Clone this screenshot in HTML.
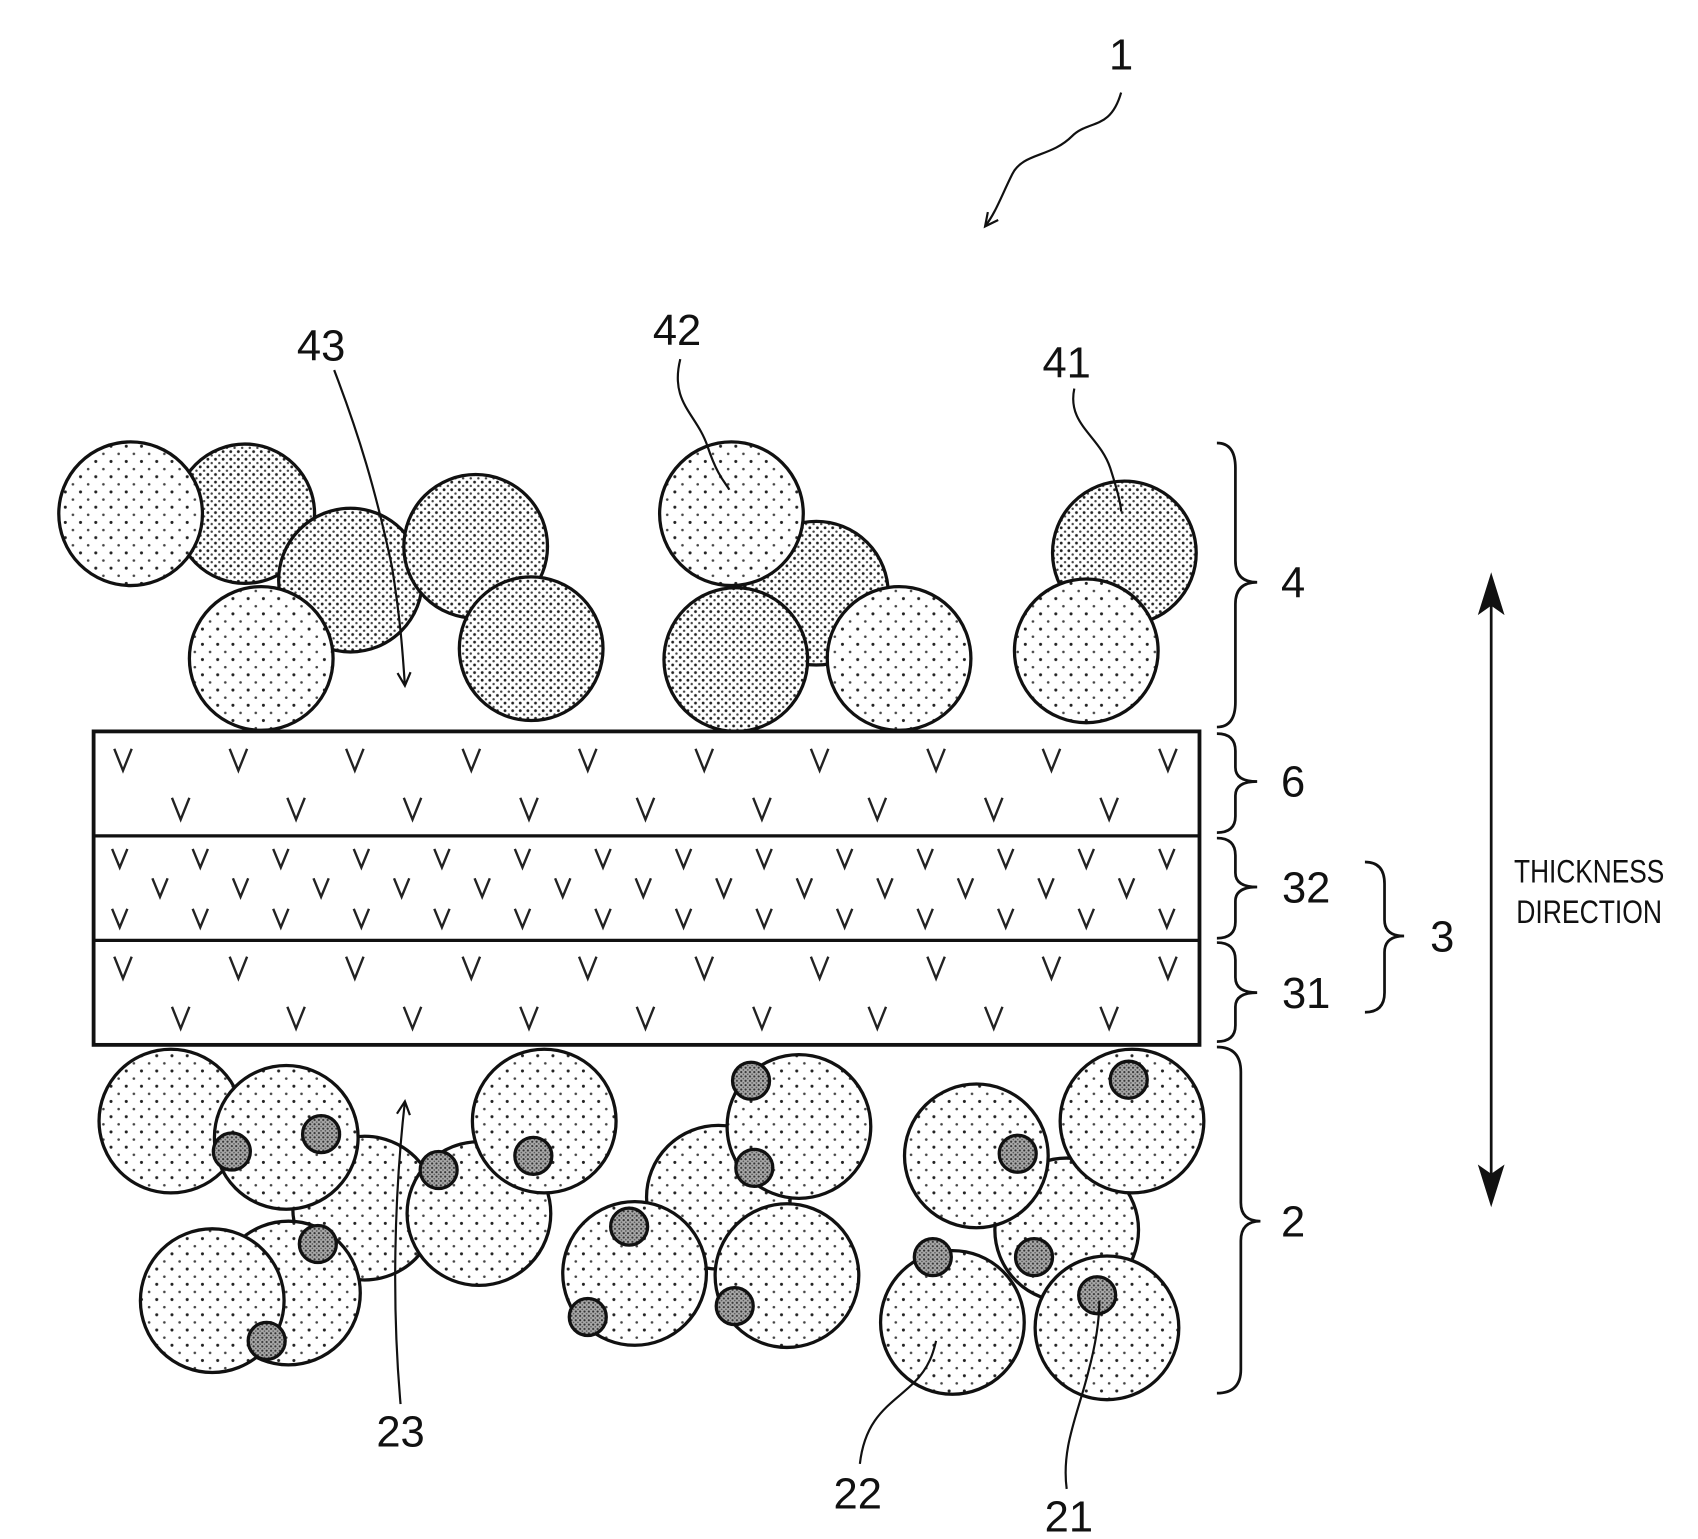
<!DOCTYPE html>
<html><head><meta charset="utf-8"><style>
html,body{margin:0;padding:0;background:#fff;}
svg{display:block;}
text{font-family:"Liberation Sans",sans-serif;fill:#111;}
</style></head><body>
<svg width="1698" height="1539" viewBox="0 0 1560 1414" preserveAspectRatio="none" xmlns="http://www.w3.org/2000/svg">
<defs>
<pattern id="sp" width="14" height="14" patternUnits="userSpaceOnUse"><rect width="14" height="14" fill="#fff"/><circle cx="4" cy="4" r="1.4" fill="#222"/><circle cx="11" cy="11" r="1.2" fill="#444"/></pattern>
<pattern id="dn" width="7" height="7" patternUnits="userSpaceOnUse"><rect width="7" height="7" fill="#fff"/><circle cx="2" cy="2" r="1.3" fill="#222"/><circle cx="5.5" cy="5.5" r="1.1" fill="#444"/></pattern>
<pattern id="gr" width="4" height="4" patternUnits="userSpaceOnUse"><rect width="4" height="4" fill="#aaa"/><circle cx="1" cy="1" r="1" fill="#333"/><circle cx="3" cy="3" r="0.8" fill="#555"/></pattern>
<marker id="ah" markerWidth="16" markerHeight="16" refX="13" refY="7" orient="auto" markerUnits="userSpaceOnUse"><path d="M1 1 L13 7 L1 13" fill="none" stroke="#111" stroke-width="2"/></marker>
</defs>
<g stroke="#111" stroke-width="3">
<circle cx="225" cy="472" r="64" fill="url(#dn)"/>
<circle cx="120" cy="472" r="66" fill="url(#sp)"/>
<circle cx="322" cy="533" r="66" fill="url(#dn)"/>
<circle cx="437" cy="502" r="66" fill="url(#dn)"/>
<circle cx="240" cy="605" r="66" fill="url(#sp)"/>
<circle cx="488" cy="596" r="66" fill="url(#dn)"/>
<circle cx="750" cy="545" r="66" fill="url(#dn)"/>
<circle cx="672" cy="472" r="66" fill="url(#sp)"/>
<circle cx="676" cy="606" r="66" fill="url(#dn)"/>
<circle cx="826" cy="605" r="66" fill="url(#sp)"/>
<circle cx="1033" cy="508" r="66" fill="url(#dn)"/>
<circle cx="998" cy="598" r="66" fill="url(#sp)"/>
<circle cx="335" cy="1110" r="66" fill="url(#sp)"/>
<circle cx="265" cy="1188" r="66" fill="url(#sp)"/>
<circle cx="157" cy="1030" r="66" fill="url(#sp)"/>
<circle cx="263" cy="1045" r="66" fill="url(#sp)"/>
<circle cx="440" cy="1115" r="66" fill="url(#sp)"/>
<circle cx="500" cy="1030" r="66" fill="url(#sp)"/>
<circle cx="195" cy="1195" r="66" fill="url(#sp)"/>
<circle cx="660" cy="1100" r="66" fill="url(#sp)"/>
<circle cx="734" cy="1035" r="66" fill="url(#sp)"/>
<circle cx="583" cy="1170" r="66" fill="url(#sp)"/>
<circle cx="723" cy="1172" r="66" fill="url(#sp)"/>
<circle cx="980" cy="1130" r="66" fill="url(#sp)"/>
<circle cx="897" cy="1062" r="66" fill="url(#sp)"/>
<circle cx="1040" cy="1030" r="66" fill="url(#sp)"/>
<circle cx="875" cy="1215" r="66" fill="url(#sp)"/>
<circle cx="1017" cy="1220" r="66" fill="url(#sp)"/>
<g fill="url(#gr)">
<circle cx="213" cy="1058" r="17"/><circle cx="295" cy="1042" r="17"/><circle cx="403" cy="1075" r="17"/>
<circle cx="490" cy="1062" r="17"/><circle cx="292" cy="1143" r="17"/><circle cx="245" cy="1232" r="17"/>
<circle cx="690" cy="993" r="17"/><circle cx="693" cy="1073" r="17"/><circle cx="578" cy="1127" r="17"/>
<circle cx="540" cy="1210" r="17"/><circle cx="675" cy="1200" r="17"/><circle cx="935" cy="1060" r="17"/>
<circle cx="1037" cy="992" r="17"/><circle cx="950" cy="1155" r="17"/><circle cx="857" cy="1155" r="17"/>
<circle cx="1008" cy="1190" r="17"/>
</g>
<rect x="86" y="672" width="1016" height="288" fill="#fff" stroke-width="3.5"/>
<line x1="86" y1="768" x2="1102" y2="768"/>
<line x1="86" y1="864" x2="1102" y2="864"/>
</g>
<g fill="none" stroke="#222" stroke-width="2.2">
<path d="M105 688l8 20 8-20 M211 688l8 20 8-20 M318 688l8 20 8-20 M425 688l8 20 8-20 M532 688l8 20 8-20 M639 688l8 20 8-20 M745 688l8 20 8-20 M852 688l8 20 8-20 M958 688l8 20 8-20 M1065 688l8 20 8-20"/>
<path d="M158 733l8 20 8-20 M264 733l8 20 8-20 M371 733l8 20 8-20 M478 733l8 20 8-20 M585 733l8 20 8-20 M692 733l8 20 8-20 M798 733l8 20 8-20 M905 733l8 20 8-20 M1011 733l8 20 8-20"/>
<path d="M105 879l8 20 8-20 M211 879l8 20 8-20 M318 879l8 20 8-20 M425 879l8 20 8-20 M532 879l8 20 8-20 M639 879l8 20 8-20 M745 879l8 20 8-20 M852 879l8 20 8-20 M958 879l8 20 8-20 M1065 879l8 20 8-20"/>
<path d="M158 925l8 20 8-20 M264 925l8 20 8-20 M371 925l8 20 8-20 M478 925l8 20 8-20 M585 925l8 20 8-20 M692 925l8 20 8-20 M798 925l8 20 8-20 M905 925l8 20 8-20 M1011 925l8 20 8-20"/>
<path d="M103 780l7 17 7-17 M177 780l7 17 7-17 M251 780l7 17 7-17 M325 780l7 17 7-17 M399 780l7 17 7-17 M473 780l7 17 7-17 M547 780l7 17 7-17 M621 780l7 17 7-17 M695 780l7 17 7-17 M769 780l7 17 7-17 M843 780l7 17 7-17 M917 780l7 17 7-17 M991 780l7 17 7-17 M1065 780l7 17 7-17"/>
<path d="M140 807l7 17 7-17 M214 807l7 17 7-17 M288 807l7 17 7-17 M362 807l7 17 7-17 M436 807l7 17 7-17 M510 807l7 17 7-17 M584 807l7 17 7-17 M658 807l7 17 7-17 M732 807l7 17 7-17 M806 807l7 17 7-17 M880 807l7 17 7-17 M954 807l7 17 7-17 M1028 807l7 17 7-17"/>
<path d="M103 835l7 17 7-17 M177 835l7 17 7-17 M251 835l7 17 7-17 M325 835l7 17 7-17 M399 835l7 17 7-17 M473 835l7 17 7-17 M547 835l7 17 7-17 M621 835l7 17 7-17 M695 835l7 17 7-17 M769 835l7 17 7-17 M843 835l7 17 7-17 M917 835l7 17 7-17 M991 835l7 17 7-17 M1065 835l7 17 7-17"/>
</g>
<g fill="none" stroke="#111" stroke-width="2.5">
<path d="M1118 407 Q1135 407 1135 430 L1135 515 Q1135 535 1155 535 Q1135 535 1135 555 L1135 645 Q1135 668 1118 668"/>
<path d="M1118 674 Q1135 674 1135 690 L1135 705 Q1135 718 1155 718 Q1135 718 1135 731 L1135 750 Q1135 765 1118 765"/>
<path d="M1118 770 Q1135 770 1135 786 L1135 802 Q1135 815 1155 815 Q1135 815 1135 828 L1135 847 Q1135 862 1118 862"/>
<path d="M1118 866 Q1135 866 1135 882 L1135 898 Q1135 912 1155 912 Q1135 912 1135 925 L1135 942 Q1135 957 1118 957"/>
<path d="M1118 962 Q1140 962 1140 985 L1140 1105 Q1140 1122 1158 1122 Q1140 1122 1140 1140 L1140 1258 Q1140 1280 1118 1280"/>
<path d="M1254 792 Q1272 792 1272 812 L1272 845 Q1272 860 1290 860 Q1272 860 1272 875 L1272 912 Q1272 930 1254 930"/>
</g>
<g stroke="#111" stroke-width="2.5" fill="#111">
<line x1="1370" y1="545" x2="1370" y2="1092"/>
<path d="M1370 530 L1360 562 L1370 555 L1380 562 Z"/>
<path d="M1370 1105 L1360 1073 L1370 1080 L1380 1073 Z"/>
</g>
<g fill="none" stroke="#111" stroke-width="2">
<path d="M1030 85 C1020 120 1000 110 985 125 C965 145 940 140 930 160 C920 180 915 195 905 208" marker-end="url(#ah)"/>
<path d="M307 340 C330 400 345 450 360 520 C368 570 370 600 372 630" marker-end="url(#ah)"/>
<path d="M625 330 C615 370 640 380 650 410 C660 440 668 445 670 450"/>
<path d="M987 357 C980 390 1010 400 1020 430 C1028 455 1030 465 1030 470"/>
<path d="M368 1290 C360 1200 362 1100 372 1012" marker-end="url(#ah)"/>
<path d="M790 1345 C795 1300 820 1290 840 1270 C855 1255 858 1240 860 1232"/>
<path d="M980 1368 C975 1330 990 1300 1000 1260 C1008 1230 1010 1210 1010 1195"/>
</g>
<g font-size="40">
<text x="1030" y="64" text-anchor="middle">1</text>
<text x="295" y="331" text-anchor="middle">43</text>
<text x="622" y="317" text-anchor="middle">42</text>
<text x="980" y="347" text-anchor="middle">41</text>
<text x="1188" y="549" text-anchor="middle">4</text>
<text x="1188" y="732" text-anchor="middle">6</text>
<text x="1200" y="829" text-anchor="middle">32</text>
<text x="1200" y="926" text-anchor="middle">31</text>
<text x="1325" y="874" text-anchor="middle">3</text>
<text x="1188" y="1136" text-anchor="middle">2</text>
<text x="368" y="1329" text-anchor="middle">23</text>
<text x="788" y="1386" text-anchor="middle">22</text>
<text x="982" y="1407" text-anchor="middle">21</text>
</g>
<g font-size="30">
<text x="1460" y="811" text-anchor="middle" textLength="138" lengthAdjust="spacingAndGlyphs">THICKNESS</text>
<text x="1460" y="848" text-anchor="middle" textLength="134" lengthAdjust="spacingAndGlyphs">DIRECTION</text>
</g>
</svg>
</body></html>
